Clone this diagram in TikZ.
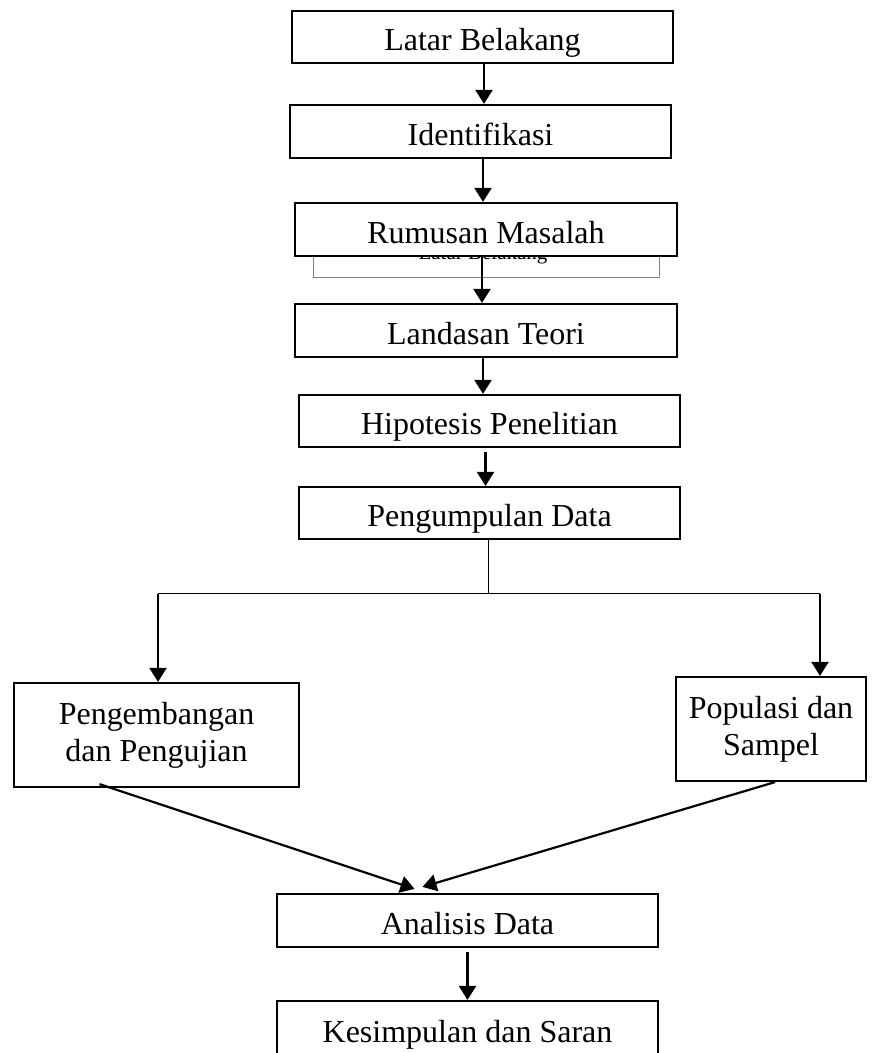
\documentclass[tikz,border=0pt]{standalone}
\usepackage{fontspec}
\setmainfont{Liberation Serif}
\usetikzlibrary{arrows.meta}
\tikzset{
    flowbox/.style={
        draw, line width=2.2pt, fill=white, inner sep=0pt,
        align=center, font=\fontsize{32}{37}\selectfont
    },
    linebox/.style={flowbox, text height=28.5pt, text depth=1.5pt},
    arr/.style={-{Triangle[width=17pt,length=14pt]}, line width=2.2pt},
}
\begin{document}
\begin{tikzpicture}[x=1pt,y=-1pt]
\useasboundingbox (0,0) rectangle (893,1053);
% box tertutup di belakang rumusan masalah
\node[draw=gray, line width=1pt, minimum width=346, minimum height=62] (latarbelakang) at (486,246) {};
\node[anchor=base, font=\fontsize{21}{24}\selectfont] (latarteks) at (483,259) {Latar Belakang};
% alur utama
\node[linebox, minimum width=381, minimum height=52] (latar) at (482.5,37) {Latar Belakang};
\node[linebox, minimum width=381, minimum height=53] (identifikasi) at (480.5,131.5) {Identifikasi};
\node[linebox, minimum width=382, minimum height=53] (rumusan) at (486,229.5) {Rumusan Masalah};
\node[linebox, minimum width=382, minimum height=53] (landasan) at (486,330.5) {Landasan Teori};
\node[linebox, minimum width=381, minimum height=52] (hipotesis) at (489.5,421) {Hipotesis Penelitian};
\node[linebox, minimum width=381, minimum height=52] (pengumpulan) at (489.5,513) {Pengumpulan Data};
\node[flowbox, minimum width=285, minimum height=104] (pengembangan) at (156.5,735) {Pengembangan\\dan Pengujian};
\node[flowbox, minimum width=190, minimum height=104] (populasi) at (771,729) {Populasi dan\\Sampel};
\node[linebox, minimum width=381, minimum height=53] (analisis) at (467.5,920.5) {Analisis Data};
\node[linebox, minimum width=381, minimum height=56] (kesimpulan) at (467.5,1029) {Kesimpulan dan Saran};
% panah
\draw[arr] ([xshift=1.5]latar.south) -- ([xshift=1.5]latar.south |- identifikasi.north);
\draw[arr] ([xshift=2.5]identifikasi.south) -- ([xshift=2.5]identifikasi.south |- rumusan.north);
\draw[arr] ([xshift=-4]rumusan.south) -- ([xshift=-4]rumusan.south |- landasan.north);
\draw[arr] ([xshift=-3]landasan.south) -- ([xshift=-3]landasan.south |- hipotesis.north);
\draw[arr] ([xshift=-4,yshift=-4]hipotesis.south) -- ([xshift=-4]hipotesis.south |- pengumpulan.north);
\coordinate (cabang) at (488,593.5);
\coordinate (kiri) at (158,593.5);
\coordinate (kanan) at (820,593.5);
\draw[line width=1pt] ([xshift=-1.5]pengumpulan.south) -- (cabang);
\draw[line width=1.4pt] (kiri) -- (kanan);
\draw[arr] (kiri) -- (kiri |- pengembangan.north);
\draw[arr] (kanan) -- (kanan |- populasi.north);
\draw[arr] ([xshift=-57,yshift=4]pengembangan.south) -- ([xshift=-53,yshift=4]analisis.north);
\draw[arr] ([xshift=4]populasi.south) -- ([xshift=-45,yshift=6]analisis.north);
\draw[arr] ([yshift=-4]analisis.south) -- (analisis.south |- kesimpulan.north);
\end{tikzpicture}
\end{document}
